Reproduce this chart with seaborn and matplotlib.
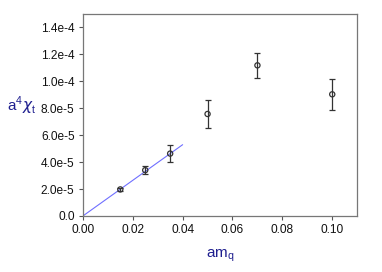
import matplotlib
matplotlib.use("Agg")
import matplotlib.pyplot as plt
import seaborn as sns
import numpy as np
import pandas as pd

# data
amq = [0.015, 0.025, 0.035, 0.05, 0.07, 0.10]
chi = [1.97e-5, 3.40e-5, 4.63e-5, 7.57e-5, 1.118e-4, 9.03e-5]
chi_err = [0.10e-5, 0.28e-5, 0.62e-5, 1.04e-5, 0.94e-5, 1.16e-5]

fit_x = [0.0, 0.04]
fit_y = [0.0, 5.29e-5]

xticks = [0.00, 0.02, 0.04, 0.06, 0.08, 0.10]
xtick_labels = ["0.00", "0.02", "0.04", "0.06", "0.08", "0.10"]
yticks = [0.0, 2e-5, 4e-5, 6e-5, 8e-5, 1e-4, 1.2e-4, 1.4e-4]
ytick_labels = ["0.0", "2.0e-5", "4.0e-5", "6.0e-5", "8.0e-5", "1.0e-4", "1.2e-4", "1.4e-4"]

sns.set_style("white")
plt.rcParams['font.family'] = ['Liberation Sans', 'DejaVu Sans']

df = pd.DataFrame({'amq': amq, 'chi': chi, 'err': chi_err})
dfFit = pd.DataFrame({'x': fit_x, 'y': fit_y})

fig = plt.figure(figsize=(3.82, 2.72), dpi=100)
ax = fig.add_axes([0.217, 0.206, 0.718, 0.743])

sns.lineplot(x='x', y='y', data=dfFit, ax=ax, color='#6f6fff', linewidth=0.8)
ax.errorbar(df['amq'], df['chi'], yerr=df['err'], fmt='none', ecolor='#333333',
            elinewidth=0.9, capsize=2.2, capthick=0.9)
sns.scatterplot(x='amq', y='chi', data=df, ax=ax, marker='o', s=14,
                facecolor='none', edgecolor='#333333', linewidth=0.9, zorder=5)

ax.set_xlim(0, 0.11)
ax.set_ylim(0, 1.5e-4)
ax.set_xticks(xticks)
ax.set_xticklabels(xtick_labels)
ax.set_yticks(yticks)
ax.set_yticklabels(ytick_labels)
ax.tick_params(axis='both', direction='out', length=3, width=0.8, color='#555555',
               labelsize=8.6, labelcolor='#111111', bottom=True, left=True, pad=3)

for s in ax.spines.values():
    s.set_color('#777777')
    s.set_linewidth(0.9)

ax.set_xlabel(r'am$_\mathregular{q}$', color='#1f1f8f', fontsize=11, labelpad=8)
ax.set_ylabel(r'a$^\mathregular{4}$$\chi_\mathregular{t}$', color='#1f1f8f', fontsize=11,
              rotation=0, labelpad=0)
ax.yaxis.set_label_coords(-0.225, 0.49)

fig.savefig('out.png', dpi=100)
